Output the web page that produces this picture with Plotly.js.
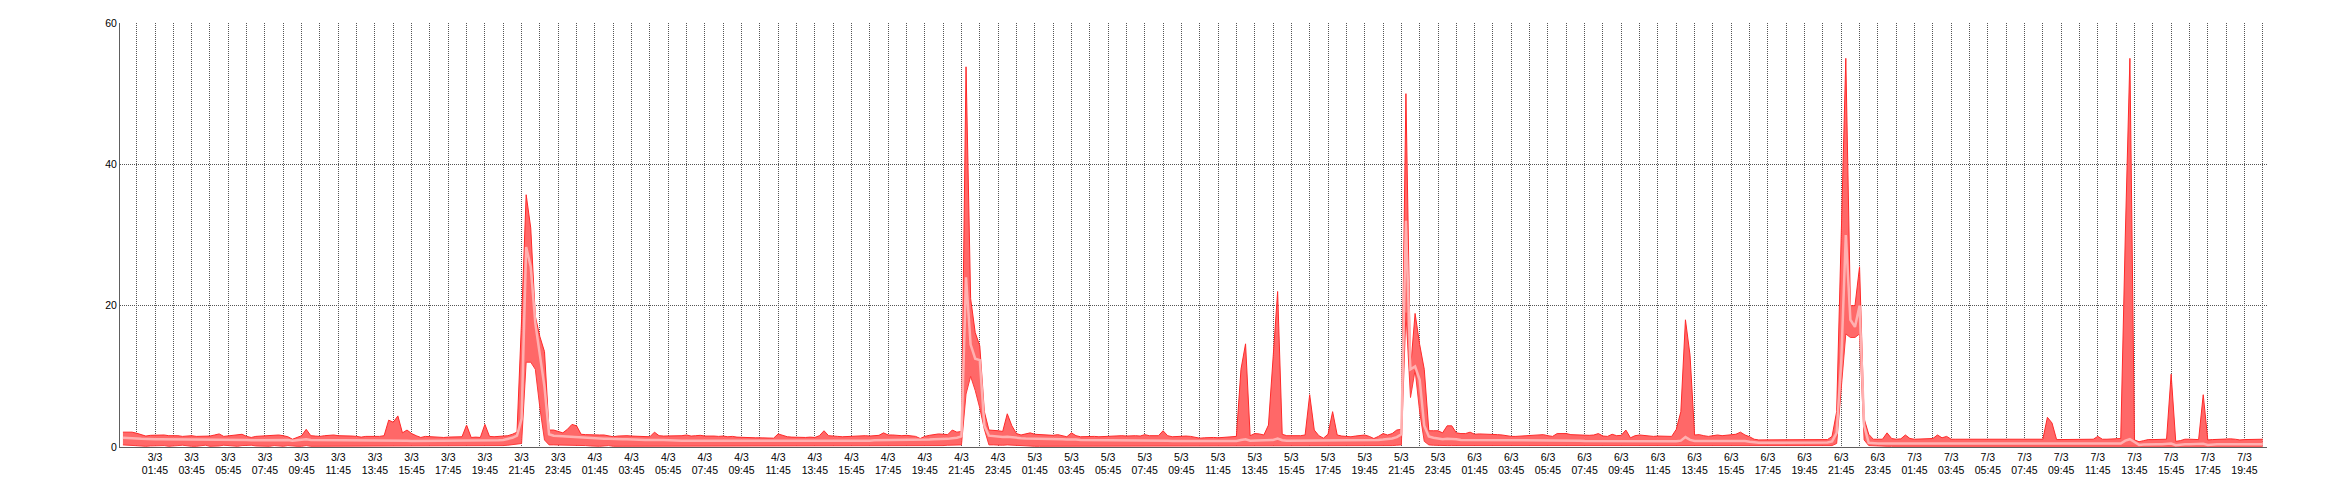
<!DOCTYPE html>
<html><head><meta charset="utf-8">
<script src="https://cdn.plot.ly/plotly-3.0.1.min.js"></script>
<style>html,body{margin:0;padding:0;background:#fff;}#chart{width:2340px;height:500px;}</style>
</head><body><div id="chart"></div>
<script>
// 15-minute samples starting 3/3 00:00
const startTime = '2024-03-03T00:00:00Z';
const stepMinutes = 15;

const maxVals = [
// 3/3
2.1,2.1,2.1,1.95,1.8,1.55,1.65,1.7,
1.65,1.7,1.6,1.65,1.6,1.5,1.55,1.6,
1.5,1.5,1.6,1.55,1.7,1.85,1.5,1.6,
1.65,1.7,1.8,1.5,1.35,1.5,1.55,1.6,
1.6,1.65,1.7,1.6,1.45,1.1,1.4,1.6,
2.5,1.6,1.55,1.5,1.6,1.65,1.7,1.6,
1.6,1.65,1.55,1.5,1.4,1.5,1.55,1.5,
1.5,1.6,3.8,3.5,4.4,2.0,2.4,1.9,
1.6,1.35,1.5,1.45,1.5,1.4,1.35,1.4,
1.4,1.45,1.45,3.1,1.35,1.4,1.35,3.2,
1.5,1.45,1.5,1.55,1.6,1.8,2.1,18,
35.7,31,18.5,15.6,13.5,2.4,2.4,2.2,
// 4/3
2.0,2.5,3.2,3.0,1.8,1.75,1.7,1.75,
1.7,1.7,1.6,1.45,1.55,1.6,1.6,1.55,
1.55,1.5,1.5,1.45,2.1,1.6,1.55,1.55,
1.6,1.55,1.6,1.7,1.55,1.6,1.65,1.55,
1.6,1.55,1.5,1.55,1.45,1.5,1.4,1.35,
1.3,1.35,1.3,1.3,1.25,1.3,1.25,1.85,
1.6,1.45,1.4,1.35,1.4,1.35,1.4,1.35,
1.6,2.3,1.6,1.5,1.5,1.45,1.5,1.45,
1.55,1.6,1.6,1.55,1.6,1.65,2.0,1.7,
1.7,1.6,1.6,1.65,1.6,1.5,1.2,1.5,
1.65,1.8,1.85,1.8,1.75,2.4,2.1,2.2,
53.8,21,16.2,14.3,5,2.4,2.4,2.3,
// 5/3
2.2,4.7,3.0,1.9,1.7,1.8,2.0,1.8,
1.75,1.7,1.7,1.65,1.75,1.6,1.45,2.0,
1.6,1.45,1.5,1.5,1.5,1.45,1.5,1.55,
1.55,1.55,1.6,1.55,1.6,1.6,1.55,1.75,
1.6,1.55,1.6,2.3,1.6,1.45,1.5,1.55,
1.55,1.5,1.35,1.25,1.3,1.35,1.35,1.3,
1.35,1.35,1.4,1.5,11,14.6,1.6,1.9,
1.85,1.7,3.1,12,22,1.8,1.6,1.6,
1.55,1.6,1.7,7.4,2.4,1.6,1.25,1.8,
5.0,1.7,1.55,1.5,1.45,1.55,1.6,1.7,
1.5,1.2,1.5,1.9,1.7,1.9,2.4,2.5,
50,11,18.9,14.5,11,2.3,2.3,2.3,
// 6/3
2.0,3.0,3.0,2.0,1.9,1.9,2.1,1.8,
1.85,1.85,1.8,1.8,1.75,1.7,1.55,1.5,
1.5,1.55,1.55,1.6,1.6,1.7,1.75,1.6,
1.5,1.9,1.95,1.9,1.75,1.7,1.7,1.6,
1.65,1.7,1.9,1.55,1.5,1.8,1.6,1.65,
2.4,1.3,1.6,1.7,1.6,1.55,1.5,1.55,
1.5,1.5,1.5,2.5,5,18,13,1.7,
1.75,1.6,1.5,1.6,1.7,1.6,1.65,1.75,
1.8,2.1,1.7,1.45,1.1,1.0,1.0,1.0,
1.0,1.0,1.0,1.0,1.0,1.0,1.0,1.0,
1.0,1.0,1.0,1.0,1.05,1.5,5,30,
55,20,20,25.5,4,1.8,1.1,1.1,
// 7/3
1.1,2.0,1.2,1.1,1.15,1.7,1.2,1.1,
1.1,1.1,1.1,1.2,1.7,1.3,1.5,1.1,
1.1,1.1,1.1,1.1,1.1,1.1,1.1,1.1,
1.05,1.05,1.05,1.05,1.05,1.05,1.05,1.05,
1.05,1.05,1.05,1.1,4.2,3.4,1.05,1.05,
1.05,1.05,1.05,1.05,1.05,1.05,1.1,1.5,
1.1,1.1,1.1,1.1,1.2,30,55,1.0,
0.75,0.9,1.05,1.05,1.05,1.05,1.1,10.3,
0.8,0.9,1.1,1.1,1.05,1.05,7.4,1.0,
1.05,1.1,1.1,1.2,1.15,1.1,1.0,1.05,
1.05,1.1,1.1,1.1
];

const meanVals = [
// 3/3
1.3,1.3,1.25,1.2,1.15,1.1,1.1,1.1,
1.1,1.1,1.05,1.05,1.05,1.05,1.05,1.05,
1.0,1.0,1.05,1.05,1.05,1.1,1.0,1.0,
1.0,1.05,1.05,1.0,0.95,0.95,1.0,1.0,
1.0,1.0,1.05,1.0,1.0,0.9,0.95,1.0,
1.1,1.0,1.0,1.0,1.0,1.0,1.0,1.0,
1.0,1.0,0.95,0.95,0.9,0.95,0.95,0.95,
0.9,0.95,1.0,0.95,1.0,0.9,0.9,0.85,
0.85,0.85,0.85,0.85,0.85,0.85,0.85,0.85,
0.85,0.85,0.85,0.95,0.85,0.85,0.85,0.95,
0.9,0.9,0.95,1.0,1.1,1.3,1.6,4,
28.3,25.5,17.5,12.8,8.5,1.8,1.6,1.55,
// 4/3
1.5,1.5,1.5,1.45,1.35,1.3,1.25,1.2,
1.2,1.15,1.15,1.1,1.1,1.1,1.1,1.05,
1.05,1.0,1.0,1.0,1.05,1.0,1.0,0.95,
0.95,0.95,0.9,0.9,0.9,0.9,0.9,0.9,
0.9,0.85,0.85,0.85,0.85,0.85,0.85,0.8,
0.8,0.8,0.8,0.8,0.8,0.8,0.8,0.85,
0.85,0.85,0.8,0.8,0.8,0.8,0.8,0.8,
0.85,0.9,0.85,0.85,0.85,0.85,0.85,0.85,
0.9,0.9,0.9,0.9,0.95,0.95,1.0,1.0,
1.0,1.0,1.0,1.0,1.0,1.0,0.95,1.0,
1.05,1.1,1.1,1.1,1.15,1.25,1.3,1.5,
24,14.5,12.5,12.3,3,1.6,1.5,1.45,
// 5/3
1.4,1.45,1.35,1.3,1.25,1.2,1.2,1.2,
1.2,1.15,1.15,1.15,1.1,1.1,1.05,1.1,
1.05,1.0,1.0,1.0,1.0,1.0,1.0,1.0,
1.0,1.0,1.0,0.95,0.95,0.95,0.9,0.9,
0.9,0.9,0.9,0.95,0.9,0.85,0.85,0.85,
0.85,0.85,0.8,0.8,0.8,0.8,0.8,0.8,
0.8,0.8,0.85,0.85,1.0,1.1,0.9,0.9,
0.9,0.9,0.95,1.0,1.2,0.95,0.9,0.9,
0.9,0.9,0.9,1.0,0.95,0.9,0.9,0.9,
1.0,0.95,0.9,0.9,0.9,0.95,0.95,0.95,
0.95,0.95,1.0,1.05,1.1,1.2,1.4,1.8,
32,11,11.4,9.5,3,1.5,1.3,1.2,
// 6/3
1.1,1.15,1.15,1.1,1.0,1.0,1.0,0.95,
0.95,0.95,0.95,0.95,0.9,0.9,0.9,0.9,
0.9,0.9,0.9,0.9,0.9,0.9,0.9,0.9,
0.9,0.95,0.95,0.95,0.9,0.9,0.9,0.85,
0.85,0.8,0.8,0.8,0.8,0.8,0.8,0.8,
0.85,0.75,0.75,0.75,0.75,0.75,0.75,0.75,
0.75,0.75,0.75,0.8,0.9,1.4,1.0,0.85,
0.85,0.85,0.85,0.85,0.85,0.85,0.85,0.9,
0.9,0.9,0.85,0.75,0.65,0.6,0.6,0.6,
0.6,0.6,0.6,0.6,0.6,0.6,0.6,0.6,
0.6,0.6,0.6,0.6,0.65,0.8,2,12,
30,18,17,20,3,0.6,0.5,0.5,
// 7/3
0.5,0.5,0.5,0.5,0.5,0.5,0.5,0.5,
0.5,0.5,0.5,0.5,0.5,0.5,0.5,0.5,
0.45,0.45,0.45,0.45,0.45,0.45,0.45,0.45,
0.45,0.45,0.45,0.45,0.45,0.45,0.45,0.45,
0.45,0.45,0.45,0.45,0.5,0.5,0.45,0.45,
0.45,0.45,0.45,0.45,0.45,0.45,0.45,0.45,
0.45,0.45,0.45,0.45,0.5,0.9,1.1,0.7,
0.3,0.35,0.4,0.4,0.4,0.4,0.4,0.5,
0.25,0.35,0.4,0.4,0.4,0.35,0.45,0.3,
0.4,0.4,0.4,0.4,0.4,0.4,0.4,0.4,
0.4,0.4,0.4,0.4
];

const minVals = [
// 3/3
0.3,0.25,0.2,0.2,0.15,0.1,0.15,0.2,
0.25,0.2,0.1,0.1,0.2,0.25,0.15,0.1,
0.1,0.2,0.25,0.1,0.1,0.15,0.25,0.2,
0.1,0.1,0.2,0.25,0.25,0.15,0.1,0.1,
0.1,0.2,0.1,0.1,0.2,0.1,0.1,0.1,
0.2,0.1,0.1,0.2,0.1,0.1,0.2,0.1,
0.1,0.1,0.2,0.1,0.1,0.1,0.1,0.1,
0.1,0.1,0.15,0.1,0.1,0.1,0.1,0.1,
0.1,0.1,0.1,0.1,0.1,0.15,0.1,0.1,
0.1,0.1,0.1,0.15,0.1,0.1,0.1,0.15,
0.1,0.1,0.15,0.2,0.25,0.3,0.35,0.5,
12,12,11,5.5,1,0.3,0.3,0.3,
// 4/3
0.3,0.3,0.3,0.25,0.2,0.2,0.15,0.1,
0.1,0.15,0.2,0.1,0.1,0.1,0.2,0.1,
0.1,0.1,0.1,0.1,0.2,0.1,0.1,0.1,
0.1,0.2,0.1,0.1,0.1,0.1,0.1,0.15,
0.1,0.1,0.1,0.1,0.1,0.1,0.1,0.1,
0.1,0.1,0.1,0.1,0.1,0.1,0.1,0.1,
0.1,0.1,0.1,0.1,0.1,0.1,0.1,0.1,
0.1,0.15,0.1,0.1,0.1,0.1,0.1,0.1,
0.1,0.1,0.1,0.1,0.1,0.15,0.2,0.1,
0.1,0.1,0.1,0.1,0.1,0.1,0.1,0.15,
0.2,0.2,0.2,0.2,0.25,0.3,0.3,0.3,
7.5,10,8,5.5,2.5,0.3,0.3,0.25,
// 5/3
0.25,0.3,0.25,0.2,0.2,0.15,0.1,0.1,
0.1,0.1,0.15,0.1,0.1,0.1,0.1,0.1,
0.1,0.1,0.1,0.1,0.1,0.1,0.1,0.1,
0.1,0.1,0.1,0.1,0.1,0.1,0.1,0.1,
0.1,0.1,0.1,0.1,0.1,0.1,0.1,0.1,
0.1,0.1,0.1,0.1,0.1,0.1,0.1,0.1,
0.1,0.1,0.1,0.1,0.1,0.1,0.1,0.1,
0.1,0.1,0.1,0.1,0.1,0.1,0.1,0.1,
0.1,0.1,0.1,0.1,0.1,0.1,0.1,0.1,
0.1,0.1,0.1,0.1,0.1,0.1,0.1,0.1,
0.1,0.1,0.1,0.15,0.2,0.2,0.25,0.3,
19,7,10.9,5,0.8,0.3,0.25,0.2,
// 6/3
0.2,0.2,0.2,0.2,0.15,0.15,0.1,0.1,
0.1,0.1,0.1,0.1,0.1,0.1,0.1,0.1,
0.1,0.1,0.1,0.1,0.1,0.1,0.1,0.1,
0.1,0.1,0.1,0.1,0.1,0.1,0.1,0.1,
0.1,0.1,0.1,0.1,0.1,0.1,0.1,0.1,
0.1,0.1,0.1,0.1,0.1,0.1,0.1,0.1,
0.1,0.1,0.1,0.1,0.1,0.1,0.1,0.1,
0.1,0.1,0.1,0.1,0.1,0.1,0.1,0.1,
0.1,0.1,0.1,0.1,0.1,0.1,0.1,0.1,
0.1,0.1,0.1,0.1,0.1,0.1,0.1,0.1,
0.1,0.1,0.1,0.1,0.1,0.2,0.5,8,
16,15.5,15.5,16,1.0,0.2,0.15,0.15,
// 7/3
0.1,0.1,0.1,0.1,0.1,0.1,0.1,0.1,
0.1,0.1,0.1,0.1,0.1,0.1,0.1,0.1,
0.1,0.1,0.1,0.1,0.1,0.1,0.1,0.1,
0.1,0.1,0.1,0.1,0.1,0.1,0.1,0.1,
0.1,0.1,0.1,0.1,0.1,0.1,0.1,0.1,
0.1,0.1,0.1,0.1,0.1,0.1,0.1,0.1,
0.1,0.1,0.1,0.1,0.1,0.1,0.1,0.1,
0.1,0.1,0.1,0.1,0.1,0.1,0.1,0.1,
0.1,0.1,0.1,0.1,0.1,0.1,0.1,0.1,
0.1,0.1,0.1,0.1,0.1,0.1,0.1,0.1,
0.1,0.1,0.1,0.1
];

const tickStart = '2024-03-03 01:45';
const xRange = ['2024-03-02 23:50:24', '2024-03-07 20:58:48'];
const yTicks = [0, 20, 40, 60];

const t0 = Date.parse(startTime);
const times = maxVals.map((_, i) =>
  new Date(t0 + i * stepMinutes * 60000).toISOString().slice(0, 19).replace('T', ' '));

const gridStyle = {gridcolor: '#555555', griddash: '1px,1px', gridwidth: 1};
const font = {family: 'Liberation Sans, Arial, sans-serif', size: 10.5, color: '#000'};

const traces = [
  {x: times, y: minVals, type: 'scatter', mode: 'lines', line: {width: 0, color: 'rgba(0,0,0,0)'},
   hoverinfo: 'skip', showlegend: false},
  {x: times, y: maxVals, type: 'scatter', mode: 'lines', fill: 'tonexty', fillcolor: '#ff6868',
   line: {width: 1, color: '#ff2a2a'}, hoverinfo: 'skip', showlegend: false},
  {x: times, y: minVals, type: 'scatter', mode: 'lines', line: {width: 1, color: '#ff3a3a'},
   hoverinfo: 'skip', showlegend: false},
  {x: times, y: meanVals, type: 'scatter', mode: 'lines', line: {width: 2.5, color: '#ffb0b0'},
   hoverinfo: 'skip', showlegend: false}
];

const layout = {
  width: 2340, height: 500,
  margin: {l: 120, r: 73, t: 23, b: 53, pad: 0},
  paper_bgcolor: '#fff', plot_bgcolor: '#fff',
  font: font,
  showlegend: false,
  xaxis: Object.assign({
    type: 'date', range: xRange, tickmode: 'linear', tick0: tickStart, dtick: 7200000,
    tickformat: '%-d/%-m<br>%H:%M', tickangle: 0, showgrid: true, ticks: '',
    showline: true, linecolor: '#5e5e5e', linewidth: 1, zeroline: false,
    tickfont: font, fixedrange: true,
    minor: Object.assign({dtick: 3600000, tick0: tickStart, showgrid: true, ticks: ''}, gridStyle)
  }, gridStyle),
  yaxis: Object.assign({
    range: [0, 60], tickmode: 'array', tickvals: yTicks, ticktext: yTicks.map(String),
    showgrid: true, ticks: '', showline: true, linecolor: '#5e5e5e', linewidth: 1,
    zeroline: false, tickfont: font, fixedrange: true
  }, gridStyle)
};

Plotly.newPlot('chart', traces, layout, {staticPlot: true, displayModeBar: false});
</script>
</body></html>
